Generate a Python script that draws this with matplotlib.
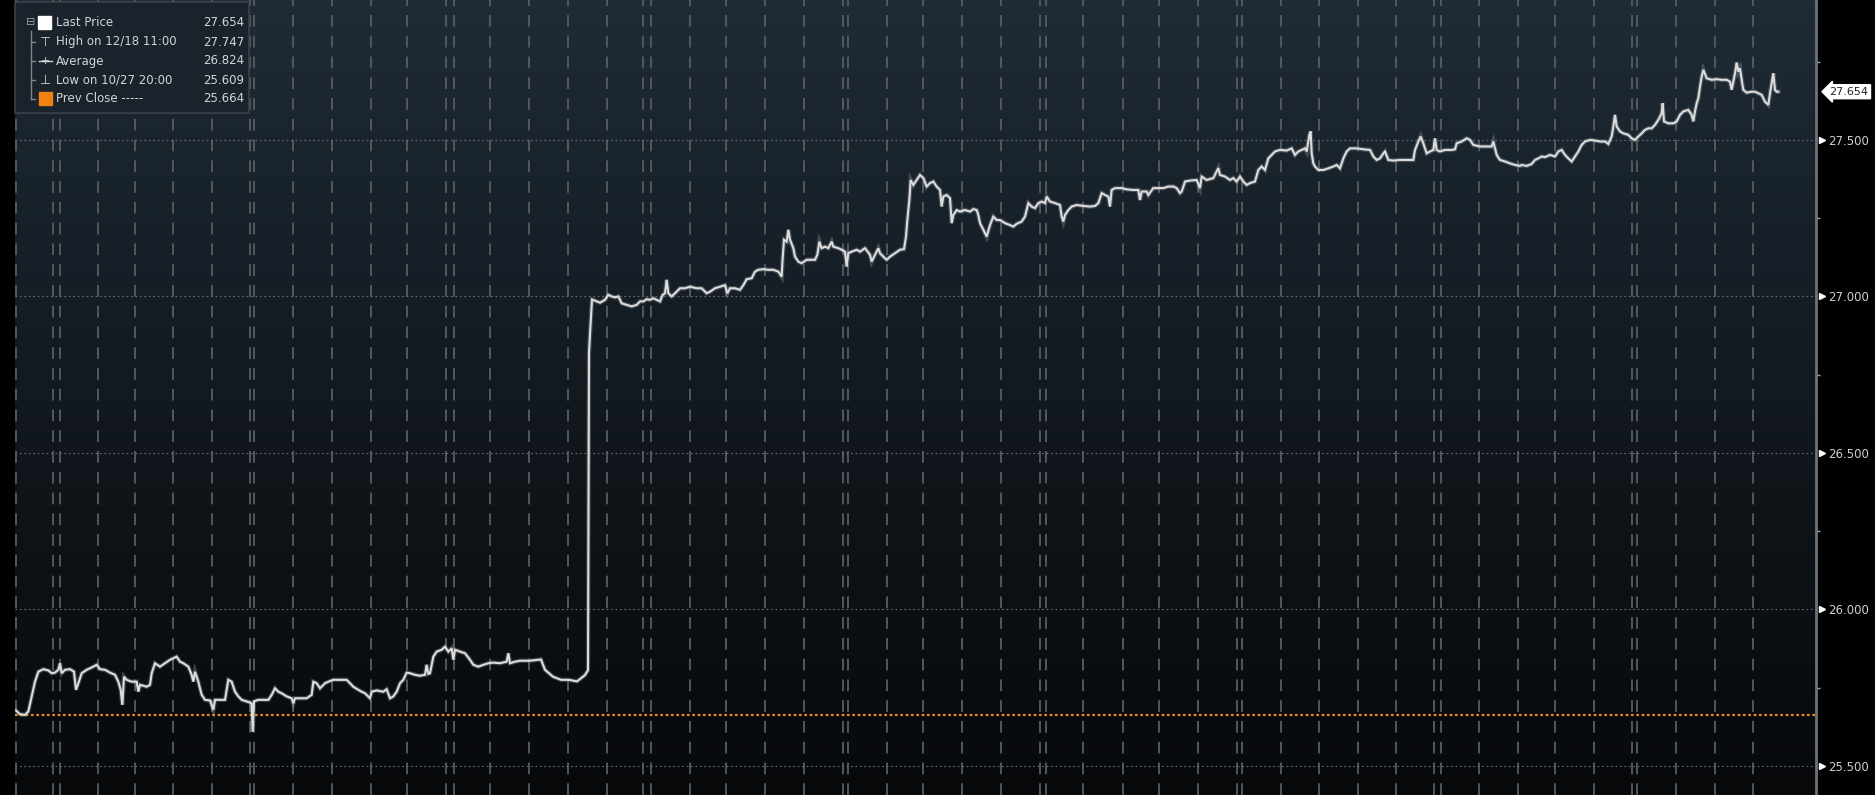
import matplotlib
matplotlib.use("Agg")
import matplotlib.pyplot as plt
from matplotlib.colors import LinearSegmentedColormap
from matplotlib.patches import Rectangle
from matplotlib.lines import Line2D
import numpy as np

# ---------------- data (x = intraday bar index, y = price) ----------------
seg_late_oct = [(3,25.677),(15,25.665),(30,25.663),(40,25.674),(50,25.722),(60,25.769),(70,25.801),(85,25.809),
 (100,25.805),(110,25.796),(120,25.798),(130,25.807),(135,25.828),(140,25.796),(150,25.807),(165,25.809),
 (177,25.801),(183,25.743),(190,25.764),(200,25.796),(215,25.807),(235,25.817),(245,25.823),(255,25.809),
 (270,25.807),(285,25.798),(300,25.791),(310,25.769),(317,25.743),(322,25.695),(327,25.785),(335,25.775),
 (350,25.769),(365,25.769),(370,25.737),(375,25.759),(395,25.753),(405,25.759),(410,25.796),(420,25.828),
 (435,25.817),(450,25.828),(465,25.839),(475,25.844),(485,25.849),(495,25.833),(505,25.828),(520,25.817),
 (530,25.791),(535,25.769),(540,25.801),(550,25.769),(560,25.727),(570,25.711),(585,25.709),(595,25.679),
 (600,25.711),(615,25.711),(630,25.711),(640,25.775),(650,25.769),(655,25.753),(660,25.737),(670,25.722),
 (680,25.711),(695,25.706),(710,25.700),(713,25.609),(717,25.706),(730,25.711),(745,25.711),(760,25.711),
 (770,25.727),(780,25.748),(790,25.737),(800,25.732),(815,25.722),(830,25.716),(835,25.700),(840,25.716),
 (855,25.716),(875,25.716),(890,25.727),(895,25.769),(905,25.764),(915,25.748),(930,25.764),(940,25.769),
 (955,25.775),(975,25.775),(995,25.775),(1005,25.764),(1015,25.753),(1030,25.743),(1040,25.737),(1050,25.732),
 (1065,25.716),(1070,25.737),(1085,25.741),(1105,25.737),(1115,25.745),(1125,25.716),(1135,25.722),(1145,25.737),
 (1155,25.764),(1165,25.775),(1175,25.798),(1185,25.796),(1200,25.791),(1215,25.788),(1230,25.791),(1235,25.823),
 (1240,25.794),(1245,25.796),(1255,25.849),(1265,25.865),(1280,25.871),(1290,25.881),(1300,25.865),(1310,25.876),
 (1315,25.839),(1320,25.871),(1335,25.865),(1350,25.860),(1365,25.839),(1375,25.823),(1390,25.817),(1405,25.823),
 (1420,25.828),(1435,25.830),(1455,25.828),(1475,25.833),(1480,25.860),(1485,25.828),(1500,25.833),(1515,25.836),
 (1545,25.836),(1578,25.840),(1590,25.807),(1614,25.785),(1638,25.775),(1662,25.775),(1686,25.770),(1710,25.790),
 (1719,25.806),(1722,26.820),(1725,26.880),(1731,26.990)]

seg_november = [(1745,26.984),(1755,26.980),(1770,26.989),(1780,27.005),(1790,27.000),(1800,26.997),(1810,27.000),
 (1820,26.978),(1835,26.973),(1850,26.968),(1865,26.973),(1875,26.984),(1885,26.984),(1895,26.991),(1905,26.989),
 (1915,26.994),(1925,26.989),(1935,26.984),(1943,27.005),(1950,27.010),(1955,27.053),(1960,27.010),(1970,27.000),
 (1980,27.010),(1995,27.026),(2010,27.026),(2025,27.031),(2045,27.026),(2060,27.026),(2075,27.010),(2085,27.015),
 (2100,27.026),(2115,27.031),(2130,27.036),(2137,27.010),(2145,27.026),(2160,27.026),(2175,27.021),(2185,27.036),
 (2195,27.055),(2210,27.058),(2220,27.079),(2230,27.085),(2245,27.087),(2260,27.085),(2275,27.085),(2290,27.079),
 (2300,27.063),(2303,27.122),(2307,27.181),(2315,27.175),(2320,27.213),(2325,27.181),(2335,27.154),(2340,27.127),
 (2350,27.111),(2360,27.106),(2375,27.117),(2390,27.117),(2400,27.117),(2407,27.133),(2413,27.175),(2420,27.154),
 (2430,27.159),(2440,27.154),(2450,27.175),(2455,27.159),(2470,27.154),(2480,27.149),(2490,27.143),(2495,27.095),
 (2500,27.138),(2510,27.143),(2525,27.149),(2535,27.143),(2550,27.154),(2565,27.133),(2570,27.111),(2580,27.133),
 (2590,27.154),(2595,27.138),(2605,27.127),(2615,27.117),(2625,27.127),(2640,27.138),(2655,27.149),(2667,27.151),
 (2673,27.191),(2677,27.244),(2683,27.308),(2687,27.372),(2695,27.356),(2705,27.372),(2715,27.388),(2725,27.378),
 (2735,27.351),(2745,27.362),(2755,27.367),(2765,27.351),(2775,27.340),(2780,27.287),(2785,27.319),(2795,27.324),
 (2805,27.314),(2810,27.234),(2815,27.260),(2825,27.276),(2835,27.271),(2850,27.276),(2865,27.271),(2875,27.279),
 (2885,27.276),(2890,27.260),(2895,27.234),(2905,27.213),(2915,27.191),(2925,27.228),(2935,27.255),(2945,27.244),
 (2955,27.244)]

seg_early_dec = [(2970,27.234),(2985,27.228),(2995,27.223),(3005,27.232),(3020,27.239),(3030,27.255),(3040,27.298),
 (3050,27.287),(3060,27.282),(3070,27.298),(3080,27.303),(3090,27.298),(3095,27.319),(3105,27.303),(3120,27.298),
 (3135,27.292),(3140,27.255),(3145,27.239),(3150,27.260),(3160,27.276),(3170,27.287),(3185,27.292),(3205,27.289),
 (3225,27.287),(3240,27.289),(3250,27.298),(3260,27.330),(3270,27.324),(3280,27.319),(3285,27.287),(3290,27.340),
 (3300,27.346),(3320,27.346),(3335,27.342),(3355,27.340),(3370,27.340),(3375,27.308),(3380,27.335),(3395,27.335),
 (3400,27.324),(3415,27.346),(3430,27.346),(3445,27.346),(3460,27.351),(3475,27.351),(3485,27.346),(3495,27.330),
 (3500,27.335),(3510,27.367),(3525,27.370),(3545,27.372),(3555,27.346),(3560,27.383),(3575,27.372),(3595,27.378),
 (3610,27.410),(3615,27.388),(3630,27.383),(3645,27.372),(3655,27.378),(3665,27.367),(3675,27.383),(3685,27.367),
 (3695,27.356),(3705,27.362),(3720,27.367),(3730,27.404),(3740,27.415),(3750,27.404),(3760,27.441),(3770,27.452),
 (3780,27.463),(3795,27.468),(3815,27.466),(3830,27.473),(3840,27.452),(3850,27.463),(3860,27.468),(3870,27.473),
 (3875,27.463),(3883,27.516),(3887,27.527),(3890,27.457),(3895,27.425),(3900,27.415),(3910,27.404),(3925,27.404),
 (3940,27.409),(3955,27.415),(3965,27.420),(3975,27.409),(3985,27.441),(3995,27.463),(4005,27.473),(4025,27.473),
 (4045,27.470),(4065,27.468),(4075,27.447),(4085,27.436),(4095,27.441),(4105,27.457),(4110,27.463),(4120,27.436),
 (4135,27.434),(4155,27.436),(4175,27.436),(4195,27.436),(4200,27.468),(4210,27.495),(4217,27.511),(4225,27.489),
 (4235,27.457),(4245,27.463),(4255,27.468),(4260,27.505),(4265,27.468),(4275,27.463),(4290,27.468),(4310,27.468),
 (4320,27.470),(4325,27.489),(4340,27.495),(4355,27.505),(4365,27.500),(4375,27.484),(4395,27.479),(4410,27.479),
 (4430,27.479),(4435,27.495),(4445,27.452),(4455,27.436),(4470,27.431),(4485,27.425),(4500,27.420),(4515,27.417)]

seg_mid_dec = [(4520,27.420),(4535,27.417),(4550,27.423),(4560,27.436),(4570,27.441),(4580,27.447),(4590,27.445),
 (4605,27.452),(4620,27.447),(4630,27.463),(4640,27.468),(4650,27.452),(4660,27.441),(4670,27.431),(4680,27.447),
 (4690,27.463),(4700,27.484),(4710,27.495),(4725,27.500),(4740,27.498),(4755,27.495),(4770,27.495),(4780,27.487),
 (4790,27.511),(4795,27.543),(4800,27.580),(4805,27.543),(4815,27.527),(4825,27.521),(4840,27.516),(4850,27.505),
 (4860,27.500),(4870,27.511),(4880,27.521),(4890,27.532),(4900,27.537),(4910,27.537),(4920,27.548),(4930,27.564),
 (4940,27.585),(4943,27.617),(4947,27.559),(4960,27.553),(4975,27.553),(4985,27.559),(4995,27.580),(5005,27.591),
 (5020,27.596),(5030,27.580),(5035,27.559),(5040,27.591),(5045,27.617),(5050,27.633),(5055,27.670),(5060,27.702),
 (5065,27.724),(5075,27.697),(5090,27.692),(5105,27.694),(5120,27.692),(5135,27.692),(5145,27.686),(5150,27.660),
 (5160,27.713),(5165,27.747),(5170,27.718),(5175,27.729),(5180,27.692),(5185,27.660),(5195,27.651),(5210,27.654),
 (5220,27.654),(5230,27.649),(5240,27.644),(5250,27.622),(5260,27.612),(5265,27.649),(5270,27.681),(5275,27.713),
 (5280,27.660),(5285,27.654),(5290,27.654)]

# session (day) boundaries, in bar index
day_breaks = [3,114,135,249,360,474,591,705,717,834,951,1068,1176,1293,1317,1425,1542,1659,1776,1884,1908,
              2025,2133,2250,2367,2484,2499,2616,2724,2841,2958,3075,3093,3204,3324,3432,3549,3666,3681,3798,
              3912,4029,4143,4257,4278,4392,4509,4620,4737,4851,4866,4983,5100,5214]

y_major = [25.5, 26.0, 26.5, 27.0, 27.5]
y_minor = [25.75, 26.25, 26.75, 27.25, 27.75]
prev_close = 25.664
average_price = 26.824
legend_labels = ["Last Price", "High on 12/18 11:00", "Average", "Low on 10/27 20:00", "Prev Close -----"]

series = seg_late_oct + seg_november + seg_early_dec + seg_mid_dec
bars = np.array([b for b, _ in series], dtype=float)
prices = np.array([p for _, p in series])
last_price = prices[-1]
legend_values = [last_price, prices.max(), average_price, prices.min(), prev_close]

# ---------------- figure ----------------
W, H = 1875, 795
fig = plt.figure(figsize=(W / 100, H / 100), dpi=100, facecolor="black")
ax = fig.add_axes([15 / W, 0, (1816 - 15) / W, 1])
xmin, xmax = 0, 5403
ymin, ymax = 25.407, 27.947
ax.set_xlim(xmin, xmax)
ax.set_ylim(ymin, ymax)

# gradient background
cmap = LinearSegmentedColormap.from_list("bg", ["#07090b", "#0e1317", "#161f27", "#1f2b36"])
grad = np.linspace(0, 1, 256).reshape(-1, 1)
ax.imshow(grad, extent=[xmin, xmax, ymin, ymax], aspect="auto", origin="lower", cmap=cmap, zorder=0)

# grid
for b in day_breaks:
    ax.axvline(b, color="#565d64", lw=1.3, linestyle=(0, (6.5, 5)), zorder=1)
for y in y_major:
    ax.axhline(y, color="#676e75", lw=0.8, linestyle=(0, (1.5, 2.5)), zorder=1)
ax.axhline(prev_close, color="#e8891f", lw=1.6, linestyle=(0, (1.2, 1.2)), zorder=2)

ax.plot(bars, prices, color="#9a9da0", lw=3.2, alpha=0.35, zorder=3, solid_joinstyle="miter")
ax.plot(bars, prices, color="#dcdcdc", lw=1.5, zorder=3, solid_joinstyle="miter")

# axes styling
for s in ["top", "left", "bottom"]:
    ax.spines[s].set_visible(False)
ax.spines["right"].set_color("#6d7379")
ax.spines["right"].set_linewidth(2)
ax.set_xticks([])
ax.yaxis.tick_right()
ax.set_yticks(y_major)
ax.set_yticklabels([f"{v:.3f}" for v in y_major])
ax.set_yticks(y_minor, minor=True)
ax.tick_params(axis="y", which="major", length=0, pad=9, labelsize=8.5, labelcolor="#cfcfcf")
ax.tick_params(axis="y", which="minor", length=3, width=1, color="#a0a6ab", direction="out")
ytr = ax.get_yaxis_transform()
ax.plot([1.0035] * len(y_major), y_major, marker=">", ms=5, color="white", ls="none",
        transform=ytr, clip_on=False, zorder=5)

# last price tag
ax.text(1.0075, last_price, f"{last_price:.3f}", transform=ytr, ha="left", va="center",
        fontsize=8, color="#222222",
        bbox=dict(boxstyle="larrow,pad=0.18", fc="white", ec="white"), clip_on=False, zorder=6)

# ---------------- legend box ----------------
def fx(px):
    return px / W

def fy(py):
    return 1 - py / H

fig.patches.append(Rectangle((fx(15), fy(113)), fx(234), 111 / H, transform=fig.transFigure,
                             fc="#1a232b", ec="#3b434a", lw=1.2, zorder=10))
rows_y = [23, 42, 61, 80, 99]
txt_kw = dict(fontsize=8.5, color="#d4d4d4", va="center", zorder=12, family="DejaVu Sans")
# tree
fig.text(fx(26), fy(22), "⊟", fontsize=8, color="#9aa0a5", va="center", zorder=12)
fig.add_artist(Line2D([fx(31), fx(31)], [fy(31), fy(99)], color="#7f868c", lw=1, zorder=11))
for ry in rows_y[1:]:
    fig.add_artist(Line2D([fx(31), fx(35)], [fy(ry), fy(ry)], color="#7f868c", lw=1, zorder=11))
# symbols
fig.patches.append(Rectangle((fx(38), fy(29)), fx(13), 13 / H, transform=fig.transFigure,
                             fc="white", ec="white", zorder=12))
fig.text(fx(45), fy(42), "⊤", fontsize=9, color="#d4d4d4", va="center", ha="center", zorder=12)
fig.add_artist(Line2D([fx(39), fx(52)], [fy(61), fy(61)], color="#d4d4d4", lw=1, zorder=12))
fig.text(fx(45.5), fy(61), "+", fontsize=8, color="#d4d4d4", va="center", ha="center", zorder=13)
fig.text(fx(45), fy(80), "⊥", fontsize=9, color="#d4d4d4", va="center", ha="center", zorder=12)
fig.patches.append(Rectangle((fx(39), fy(105)), fx(13), 13 / H, transform=fig.transFigure,
                             fc="#f0820f", ec="#f0820f", zorder=12))
for ry, lab, val in zip(rows_y, legend_labels, legend_values):
    fig.text(fx(56), fy(ry), lab, ha="left", **txt_kw)
    fig.text(fx(244), fy(ry), f"{val:.3f}", ha="right", **txt_kw)

fig.savefig("out.png", dpi=100, facecolor="black")
